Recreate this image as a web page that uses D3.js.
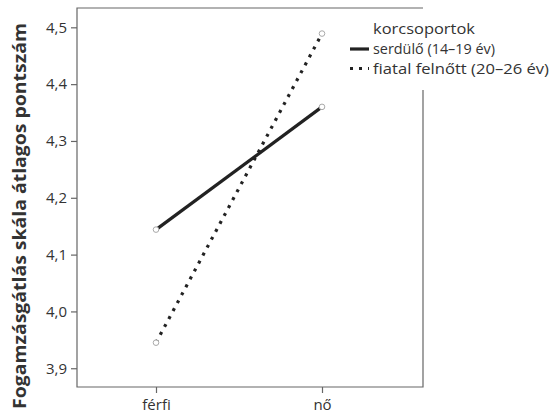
<!DOCTYPE html>
<html>
<head>
<meta charset="utf-8">
<script src="https://cdn.jsdelivr.net/npm/d3@7"></script>
<style>
  body { margin: 0; background: #fff; }
  text { font-family: "Open Sans", "Noto Sans", sans-serif; fill: #333; }
</style>
</head>
<body>
<svg id="chart"></svg>
<script>
// categories and values
var categories = ['férfi', 'nő'];
var groups = ['serdülő (14–19 év)', 'fiatal felnőtt (20–26 év)'];
var serdulo = [4.144, 4.360];
var fiatal = [3.945, 4.489];
var yTicks = [3.9, 4.0, 4.1, 4.2, 4.3, 4.4, 4.5];

var width = 555;
var height = 416;

// plot frame (note: "top" is taken by window.top, so use other names)
var plotLeft = 77, plotRight = 423, plotTop = 8, plotBottom = 387;

var svg = d3.select('#chart')
    .attr('width', width)
    .attr('height', height);

var xScale = d3.scalePoint()
    .domain(categories)
    .range([156, 322]);

var yScale = d3.scaleLinear()
    .domain([3.867, 4.534])
    .range([plotBottom, plotTop]);

// frame: top, left, bottom full; right side starts below legend
svg.append('path')
    .attr('d', 'M' + plotRight + ',90 L' + plotRight + ',' + plotBottom + ' L' + plotLeft + ',' + plotBottom +
               ' L' + plotLeft + ',' + plotTop + ' L' + plotRight + ',' + plotTop)
    .attr('fill', 'none')
    .attr('stroke', '#666')
    .attr('stroke-width', 1.2);

var fmt = function(d) { return d3.format('.1f')(d).replace('.', ','); };

var yAxis = d3.axisLeft(yScale)
    .tickValues(yTicks)
    .tickFormat(fmt)
    .tickSize(6)
    .tickPadding(4);

var gy = svg.append('g')
    .attr('transform', 'translate(' + plotLeft + ',0)')
    .call(yAxis);
gy.select('.domain').remove();
gy.selectAll('line').attr('stroke', '#666').attr('stroke-width', 1.2);
gy.selectAll('text').style('font-size', '15px').attr('fill', '#333');

var xAxis = d3.axisBottom(xScale)
    .tickSize(6)
    .tickPadding(6);

var gx = svg.append('g')
    .attr('transform', 'translate(0,' + plotBottom + ')')
    .call(xAxis);
gx.select('.domain').remove();
gx.selectAll('line').attr('stroke', '#666').attr('stroke-width', 1.2);
gx.selectAll('text').style('font-size', '15px').attr('fill', '#333');

// y title
svg.append('text')
    .attr('transform', 'translate(26,216) rotate(-90)')
    .attr('text-anchor', 'middle')
    .style('font-size', '18px')
    .style('font-weight', 'bold')
    .attr('textLength', 386)
    .attr('lengthAdjust', 'spacingAndGlyphs')
    .text('Fogamzásgátlás skála átlagos pontszám');

var series = [
    { name: groups[0], values: serdulo, dash: null },
    { name: groups[1], values: fiatal, dash: '3,6' }
];

var line = d3.line()
    .x(function(d, i) { return xScale(categories[i]); })
    .y(function(d) { return yScale(d); });

series.forEach(function(s) {
    svg.append('path')
        .datum(s.values)
        .attr('d', line)
        .attr('fill', 'none')
        .attr('stroke', '#222')
        .attr('stroke-width', 3.2)
        .attr('stroke-dasharray', s.dash);

    svg.selectAll(null)
        .data(s.values)
        .enter()
        .append('circle')
        .attr('cx', function(d, i) { return xScale(categories[i]); })
        .attr('cy', function(d) { return yScale(d); })
        .attr('r', 2.8)
        .attr('fill', '#fff')
        .attr('stroke', '#aaa')
        .attr('stroke-width', 1);
});

// legend
var legend = svg.append('g').attr('transform', 'translate(350,0)');

legend.append('text')
    .attr('x', 23)
    .attr('y', 29)
    .attr('dy', '0.35em')
    .style('font-size', '15px')
    .attr('textLength', 102)
    .attr('lengthAdjust', 'spacingAndGlyphs')
    .text('korcsoportok');

var items = legend.selectAll('.item')
    .data(series)
    .enter()
    .append('g')
    .attr('class', 'item')
    .attr('transform', function(d, i) { return 'translate(0,' + (49 + i * 19.5) + ')'; });

items.append('line')
    .attr('x1', 0)
    .attr('x2', 19)
    .attr('stroke', '#222')
    .attr('stroke-width', 3.2)
    .attr('stroke-dasharray', function(d) { return d.dash ? '3,6' : null; });

items.append('text')
    .attr('x', 23)
    .attr('dy', '0.35em')
    .style('font-size', '15px')
    .attr('textLength', function(d, i) { return i === 0 ? 122 : 176; })
    .attr('lengthAdjust', 'spacingAndGlyphs')
    .text(function(d) { return d.name; });
</script>
</body>
</html>
